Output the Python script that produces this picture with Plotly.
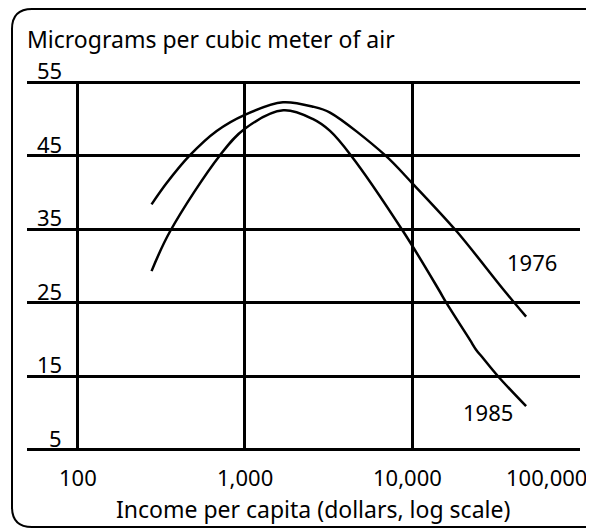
import math
import plotly.graph_objects as go

# ---- data ----
income_1976 = [277, 341, 470, 679, 1000, 1690, 2560, 3230, 6890, 10000, 18500, 35100, 48000]
conc_1976 = [38.4, 41.3, 45.1, 48.4, 50.6, 52.3, 51.7, 50.9, 45.1, 41.3, 34.7, 26.8, 23.1]

income_1985 = [277, 357, 711, 1000, 1698, 2560, 3230, 4300, 8850, 14400, 16100,
               22200, 24100, 26200, 32700, 48000]
conc_1985 = [29.3, 34.7, 45.1, 48.7, 51.2, 50.0, 48.4, 45.1, 34.7, 26.8, 24.9,
             19.9, 18.6, 17.6, 14.95, 10.9]

x_ticks = [100, 1000, 10000, 100000]
x_tick_text = ["100", "1,000", "10,000", "100,000"]
y_ticks = [5, 15, 25, 35, 45, 55]
y_tick_text = ["5", "15", "25", "35", "45", "55"]

series_labels = ["1976", "1985"]
label_pos_x = [52100, 28500]
label_pos_y = [30.5, 10.1]

FONT = "Noto Sans"
OFF = 8  # page body margin
W, H = 586, 522
ML, MR, MT, MB = 19, 14, 73, 79
PW, PH = W - ML - MR, H - MT - MB


def px_x(p):
    """page pixel x -> paper x"""
    return (p - OFF - ML) / PW


def px_y(p):
    """page pixel y -> paper y"""
    return (H - MB - (p - OFF)) / PH


fig = go.Figure()
line_style = dict(color="black", width=2.5)
fig.add_trace(go.Scatter(x=income_1976, y=conc_1976, mode="lines",
                         line=dict(shape="spline", smoothing=0.9, **line_style),
                         hoverinfo="skip", showlegend=False))
fig.add_trace(go.Scatter(x=income_1985, y=conc_1985, mode="lines",
                         line=dict(shape="spline", smoothing=1.0, **line_style),
                         hoverinfo="skip", showlegend=False))

txt_font = dict(family=FONT, size=22, color="black")
big_font = dict(family=FONT, size=23, color="black")
annotations = []
annotations.append(dict(text="Micrograms per cubic meter of air", xref="paper", yref="paper",
                        x=px_x(25), y=px_y(39), xanchor="left", yanchor="middle",
                        showarrow=False, font=big_font))
annotations.append(dict(text="Income per capita (dollars, log scale)", xref="paper", yref="paper",
                        x=px_x(313), y=px_y(509), xanchor="center", yanchor="middle",
                        showarrow=False, font=big_font))
for v, t in zip(y_ticks, y_tick_text):
    annotations.append(dict(text=t, xref="paper", yref="y", x=px_x(64), y=v,
                            xanchor="right", yanchor="bottom", yshift=-5,
                            showarrow=False, font=txt_font))
for i, (v, t) in enumerate(zip(x_ticks, x_tick_text)):
    last = i == len(x_ticks) - 1
    annotations.append(dict(text=t, xref="x", yref="paper", x=math.log10(v), y=px_y(477),
                            xanchor="right" if last else "center", yanchor="middle",
                            xshift=10 if last else (-5 if i == 2 else 0),
                            showarrow=False, font=txt_font))
for t, lx, ly in zip(series_labels, label_pos_x, label_pos_y):
    annotations.append(dict(text=t, xref="x", yref="y", x=math.log10(lx), y=ly,
                            xanchor="center", yanchor="middle", showarrow=False,
                            font=txt_font))

# outer frame: open on the right (it runs off the page there), rounded on the left
l, r, t, b, rad = 12, 620, 9, 527, 20
frame_line = dict(color="black", width=2)
path = (f"M {px_x(r)} {px_y(t)} L {px_x(l + rad)} {px_y(t)} "
        f"Q {px_x(l)} {px_y(t)} {px_x(l)} {px_y(t + rad)} "
        f"L {px_x(l)} {px_y(b - rad)} Q {px_x(l)} {px_y(b)} {px_x(l + rad)} {px_y(b)} "
        f"L {px_x(r)} {px_y(b)}")
shapes = [dict(type="path", path=path, xref="paper", yref="paper",
               line=frame_line, fillcolor="rgba(0,0,0,0)", layer="above")]

fig.update_layout(
    width=W, height=H,
    margin=dict(l=ML, r=MR, t=MT, b=MB),
    paper_bgcolor="white", plot_bgcolor="white",
    font=txt_font,
    annotations=annotations, shapes=shapes,
    xaxis=dict(type="log", range=[1.698, 1.698 + PW / 167.3],
               tickvals=x_ticks, showticklabels=False, ticks="",
               showgrid=True, gridcolor="black", gridwidth=2.5,
               zeroline=False, showline=False, fixedrange=True),
    yaxis=dict(range=[4.8, 55.2], tickvals=y_ticks, showticklabels=False, ticks="",
               showgrid=True, gridcolor="black", gridwidth=2.5,
               zeroline=False, showline=False, fixedrange=True),
)

fig.write_html("out.html")
